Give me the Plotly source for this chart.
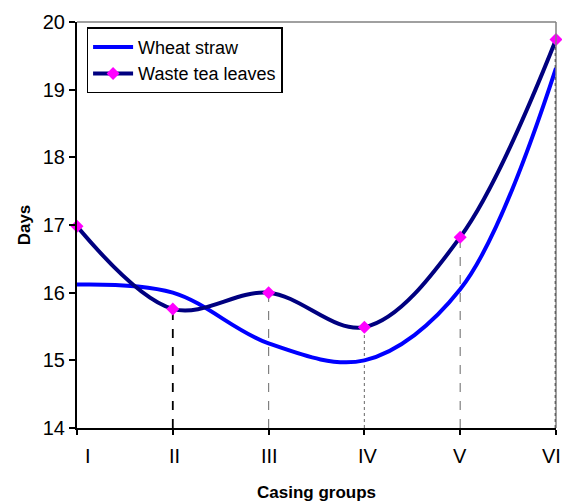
import plotly.graph_objects as go

categories = ["I", "II", "III", "IV", "V", "VI"]
label_shift = [11, 2, 1, 4, 0, -5]
wheat_straw = [16.12, 16.0, 15.25, 15.0, 16.05, 19.32]
waste_tea = [16.98, 15.76, 16.0, 15.49, 16.82, 19.74]
drop_styles = [None, ("black", "dash", 1.8), ("grey", "dash", 1.2), ("grey", "dot", 1.2),
               ("grey", "dash", 1.2), ("black", "dot", 2.5)]
y_min = 14

xs = list(range(len(categories)))

fig = go.Figure()

# drop lines from waste tea points to the x axis
for i, st in enumerate(drop_styles):
    if st is None:
        continue
    col, dash, w = st
    fig.add_trace(go.Scatter(x=[xs[i], xs[i]], y=[y_min, waste_tea[i]], mode="lines",
                             line=dict(color=col, dash=dash, width=w),
                             showlegend=False, hoverinfo="skip", cliponaxis=False))

fig.add_trace(go.Scatter(x=xs, y=wheat_straw, mode="lines", name="Wheat straw",
                         line=dict(color="#0000FF", width=4, shape="spline", smoothing=1.0),
                         cliponaxis=False))
fig.add_trace(go.Scatter(x=xs, y=waste_tea, mode="lines+markers", name="Waste tea leaves",
                         line=dict(color="#000080", width=4, shape="spline", smoothing=1.0),
                         marker=dict(symbol="diamond", color="#FF00FF", size=10),
                         cliponaxis=False))

# top and right frame lines
fig.add_shape(type="line", xref="paper", yref="paper", x0=0, x1=1, y0=1, y1=1,
              line=dict(color="grey", width=1.5))
fig.add_shape(type="line", xref="paper", yref="paper", x0=1, x1=1, y0=0, y1=1,
              line=dict(color="grey", width=1.5))

# category labels
for xv, lab, sh in zip(xs, categories, label_shift):
    fig.add_annotation(x=xv, y=0, xref="x", yref="paper", text=lab, showarrow=False,
                       xanchor="center", yanchor="middle", yshift=-28, xshift=sh,
                       font=dict(size=20))
fig.add_annotation(x=0.5, y=0, xref="paper", yref="paper", text="<b>Casing groups</b>",
                   showarrow=False, xanchor="center", yanchor="middle", yshift=-64,
                   font=dict(size=17))

fig.update_layout(
    width=562, height=503,
    margin=dict(l=77, r=6, t=22, b=75, autoexpand=False),
    plot_bgcolor="white", paper_bgcolor="white",
    font=dict(family="Liberation Sans, Arial", size=20, color="black"),
    legend=dict(x=0.02, y=0.987, xanchor="left", yanchor="top",
                bordercolor="black", borderwidth=1.5, bgcolor="white",
                font=dict(size=18), tracegroupgap=0, itemwidth=40),
    xaxis=dict(range=[0, 5], tickmode="array", tickvals=xs, showticklabels=False,
               showline=True, linecolor="black", linewidth=2, ticks="outside",
               ticklen=5, tickwidth=2, tickcolor="black", showgrid=False, zeroline=False),
    yaxis=dict(range=[14, 20], dtick=1, showline=True, linecolor="black", linewidth=2,
               ticks="outside", ticklen=6, tickwidth=1.5, tickcolor="black",
               showgrid=False, zeroline=False,
               title=dict(text="<b>Days</b>", font=dict(size=17), standoff=8)),
)

fig.write_html("out.html", config={"displayModeBar": False},
               post_script="document.body.style.margin='0px';document.body.style.overflow='hidden';")
